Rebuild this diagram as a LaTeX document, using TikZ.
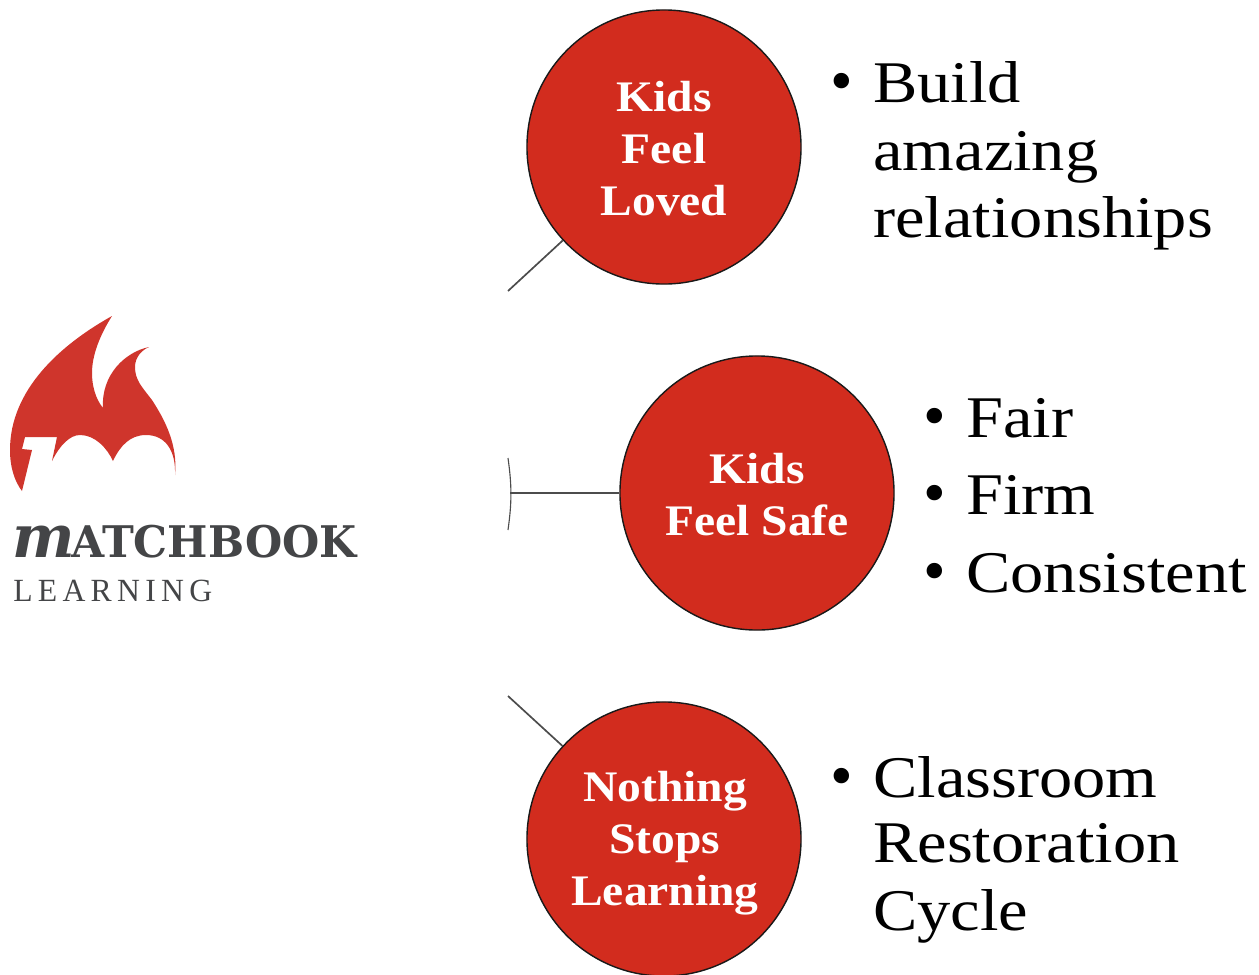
\documentclass[tikz,border=0pt]{standalone}
\usepackage{fontspec}
\setmainfont{Liberation Serif}
\newfontfamily\logofont{DejaVu Serif}
\definecolor{circlered}{HTML}{D22C1E}
\definecolor{flamered}{HTML}{CF352C}
\definecolor{logogray}{HTML}{444547}
\tikzset{
  goal/.style={draw=black!90, line width=1pt, circle, fill=circlered, minimum size=6.85cm,
    inner sep=0pt},
  goaltext/.style={text=white, align=center, inner sep=0pt, xscale=1.09,
    font=\fontsize{31}{37}\selectfont\bfseries},
  point/.style={anchor=base west, inner sep=0pt, xscale=1.125, font=\fontsize{42}{48}\selectfont},
  dot/.style={anchor=base west, inner sep=0pt, font=\fontsize{46}{48}\selectfont},
  logotext/.style={text=logogray, anchor=base west, inner sep=0pt},
  link/.style={draw=black!70, line width=1.2pt}
}
\begin{document}
\begin{tikzpicture}[x=.025cm, y=-.025cm]
\useasboundingbox (0,0) rectangle (1259,975);

%logo
\fill[flamered] (112,316) .. controls (60,345) and (10,390) .. (10,450)
  .. controls (10,468) and (15,482) .. (22,491) -- (32,450) -- (22,449) -- (25,437)
  -- (57,437) -- (52,461) .. controls (60,445) and (70,435) .. (80,435)
  .. controls (95,435) and (107,448) .. (113,461) .. controls (120,446) and (130,435) .. (146,435)
  .. controls (165,435) and (176,450) .. (175,475) .. controls (178,445) and (165,420) .. (152,400)
  .. controls (142,387) and (135,380) .. (135,367) .. controls (135,357) and (142,350) .. (149,347)
  .. controls (125,352) and (101,375) .. (103,408) .. controls (95,398) and (92,385) .. (92,373)
  .. controls (92,355) and (100,335) .. (112,316) -- cycle;
\node[logotext, font=\logofont\bfseries\itshape\fontsize{42}{42}\selectfont](logo_m)at(12,557){m};
\node[logotext, xscale=.98, font=\logofont\bfseries\fontsize{31}{31}\selectfont](logo_name)at(71,557){ATCHBOOK};
\node[logotext, xscale=.98, font=\fontsize{23}{23}\selectfont](logo_sub)at(13,601){L\,E\,A\,R\,N\,I\,N\,G};

%circles
\node[goal](loved)at(664,147){};
\node[goal](safe)at(757,493){};
\node[goal](stops)at(664,839){};
\node[goaltext](loved_text)at(664,149){Kids\\Feel\\Loved};
\node[goaltext](safe_text)at(757,495){Kids\\Feel Safe};
\node[goaltext](stops_text)at(665,843){Nothing\\Stops\\Learning};

%connectors
\coordinate(loved_end)at(508,291);
\coordinate(safe_end)at(510,493);
\coordinate(stops_end)at(508,696);
\coordinate(bar_top)at(508,458);
\coordinate(bar_bot)at(508,530);
\draw[link](loved)--(loved_end);
\draw[link](safe)--(safe_end);
\draw[link](stops)--(stops_end);
\draw[link, line width=.8pt](bar_top)to[bend left=8](bar_bot);

%bullet lists
\node[dot](b1)at(830,102){•};
\node[point](t1a)at(873,102){Build};
\node[point](t1b)at(873,170){amazing};
\node[point](t1c)at(873,237){relationships};
\node[dot](b2)at(923,437){•};
\node[point](t2a)at(966,437){Fair};
\node[dot](b3)at(923,514){•};
\node[point](t2b)at(966,514){Firm};
\node[dot](b4)at(923,592){•};
\node[point](t2c)at(966,592){Consistent};
\node[dot](b5)at(830,797){•};
\node[point](t3a)at(873,797){Classroom};
\node[point](t3b)at(873,862){Restoration};
\node[point](t3c)at(873,930){Cycle};
\end{tikzpicture}
\end{document}
